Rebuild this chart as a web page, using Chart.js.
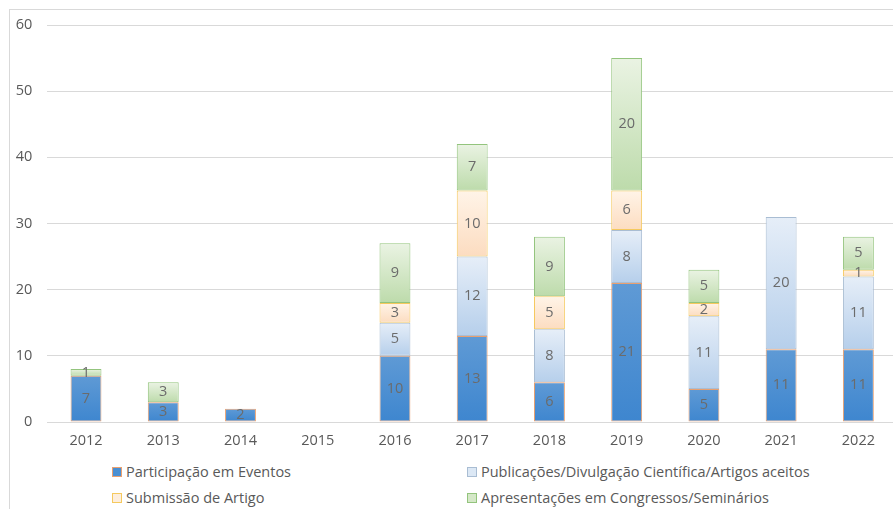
<!DOCTYPE html>
<html>
<head>
<meta charset="utf-8">
<script src="https://cdn.jsdelivr.net/npm/chart.js@4"></script>
<style>
  html, body { margin: 0; padding: 0; overflow: hidden; background: #fff; }
  body { width: 893px; height: 509px; position: relative; font-family: "Open Sans", sans-serif; }
  #moldura { position: absolute; left: 9px; top: 9px; width: 1000px; height: 1000px; border: 1px solid #d9d9d9; }
  #grafico { position: absolute; left: 0; top: 0; }
  .leg { position: absolute; font-size: 14.5px; color: #595959; line-height: 18px; white-space: nowrap; }
  .leg span { display: inline-block; width: 8px; height: 8px; margin-right: 4px; vertical-align: 0px; }
</style>
</head>
<body>
<div id="moldura"></div>
<canvas id="grafico" width="897" height="457"></canvas>
<div id="legenda"></div>
<script>
const anos = ["2012", "2013", "2014", "2015", "2016", "2017", "2018", "2019", "2020", "2021", "2022"];
const participacao = [7, 3, 2, 0, 10, 13, 6, 21, 5, 11, 11];
const publicacoes = [0, 0, 0, 0, 5, 12, 8, 8, 11, 20, 11];
const submissao = [0, 0, 0, 0, 3, 10, 5, 6, 2, 0, 1];
const apresentacoes = [1, 3, 0, 0, 9, 7, 9, 20, 5, 0, 5];

const series = [
  { nome: "Participação em Eventos", dados: participacao, topo: "#5f9ad5", base: "#3e86cf", borda: "#e9a070", caixa: "#4a8fd2" },
  { nome: "Publicações/Divulgação Científica/Artigos aceitos", dados: publicacoes, topo: "#e6eef8", base: "#b6cfeb", borda: "#a9bdd3", caixa: "#dce8f5" },
  { nome: "Submissão de Artigo", dados: submissao, topo: "#fff4e8", base: "#fcdcc0", borda: "#f5c95e", caixa: "#fdeedd" },
  { nome: "Apresentações em Congressos/Seminários", dados: apresentacoes, topo: "#eaf3e3", base: "#bddbab", borda: "#93c47d", caixa: "#d5e8c8" }
];

function gradiente(s, indiceSerie) {
  return function (ctx) {
    const chart = ctx.chart;
    const y = chart.scales.y;
    if (!chart.chartArea || !y || ctx.type !== "data") return s.base;
    const i = ctx.dataIndex;
    let inicio = 0;
    for (let k = 0; k < indiceSerie; k++) inicio += series[k].dados[i];
    const v = s.dados[i];
    if (!v) return s.base;
    const yBase = y.getPixelForValue(inicio);
    const yTopo = y.getPixelForValue(inicio + v);
    const g = chart.ctx.createLinearGradient(0, yTopo, 0, yBase);
    g.addColorStop(0, s.topo);
    g.addColorStop(1, s.base);
    return g;
  };
}

const rotulos = {
  id: "rotulos",
  afterDatasetsDraw(chart) {
    const c = chart.ctx;
    c.save();
    c.font = "14.5px 'Open Sans'";
    c.fillStyle = "#6b6b6b";
    c.textAlign = "center";
    c.textBaseline = "middle";
    chart.data.datasets.forEach((ds, d) => {
      const meta = chart.getDatasetMeta(d);
      meta.data.forEach((barra, i) => {
        const v = ds.data[i];
        if (!v) return;
        c.fillText(String(v), barra.x, (barra.y + barra.base) / 2);
      });
    });
    c.restore();
  }
};

new Chart(document.getElementById("grafico"), {
  type: "bar",
  data: {
    labels: anos,
    datasets: series.map((s, k) => ({
      label: s.nome,
      data: s.dados,
      backgroundColor: gradiente(s, k),
      borderColor: s.borda,
      borderWidth: 1,
      borderSkipped: false,
      barPercentage: 0.4,
      categoryPercentage: 1
    }))
  },
  options: {
    responsive: false,
    devicePixelRatio: 1,
    animation: false,
    layout: { padding: { top: 25, left: 0, right: 0, bottom: 0 } },
    plugins: {
      legend: { display: false },
      tooltip: { enabled: false }
    },
    scales: {
      x: {
        stacked: true,
        grid: { display: false, drawTicks: false },
        border: { display: false },
        ticks: { color: "#595959", font: { family: "Open Sans", size: 14.5 }, padding: 10 },
        afterFit: s => { s.height = 35; }
      },
      y: {
        stacked: true,
        min: 0,
        max: 60,
        ticks: { stepSize: 10, color: "#595959", font: { family: "Open Sans", size: 14.5 }, padding: 15 },
        grid: { color: "#d9d9d9", drawTicks: false },
        border: { display: false },
        afterFit: s => { s.width = 47.4; }
      }
    }
  },
  plugins: [rotulos]
});

const posicoes = [[112, 463], [467, 463], [112, 489], [467, 489]];
const legenda = document.getElementById("legenda");
series.forEach((s, n) => {
  const el = document.createElement("div");
  el.className = "leg";
  el.style.left = posicoes[n][0] + "px";
  el.style.top = posicoes[n][1] + "px";
  el.innerHTML = '<span style="background:' + s.caixa + ';border:1px solid ' + s.borda + '"></span>' + s.nome;
  legenda.appendChild(el);
});
</script>
</body>
</html>
